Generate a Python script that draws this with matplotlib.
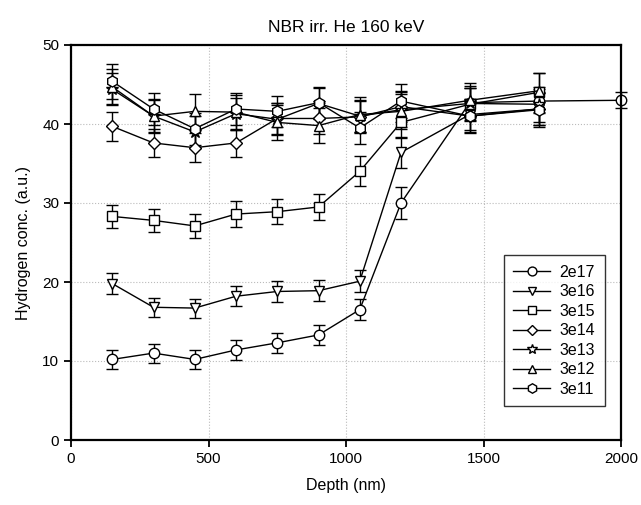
import numpy as np
import matplotlib
matplotlib.use('Agg')
import matplotlib.pyplot as plt

plt.rcParams['font.family'] = ['Liberation Sans', 'DejaVu Sans']

depth = [150, 300, 450, 600, 750, 900, 1050, 1200, 1450, 1700]
depth_2e17 = depth + [2000]

h_2e17 = [10.2, 11.0, 10.2, 11.4, 12.3, 13.3, 16.5, 30.0, 42.7, 42.9, 43.0]
h_3e16 = [19.8, 16.8, 16.7, 18.2, 18.8, 18.9, 20.1, 36.4, 41.2, 41.9]
h_3e15 = [28.3, 27.8, 27.1, 28.6, 28.9, 29.5, 34.0, 40.2, 42.5, 44.0]
h_3e14 = [39.7, 37.6, 37.0, 37.6, 40.7, 40.7, 40.9, 42.2, 41.0, 41.9]
h_3e13 = [44.4, 41.0, 39.0, 41.3, 40.6, 42.6, 41.0, 41.8, 42.6, 42.5]
h_3e12 = [44.7, 41.0, 41.6, 41.5, 40.2, 39.8, 41.2, 41.6, 43.0, 44.2]
h_3e11 = [45.4, 41.9, 39.4, 41.9, 41.6, 42.7, 39.5, 42.9, 41.0, 41.8]

e_2e17 = [1.2, 1.2, 1.2, 1.3, 1.3, 1.3, 1.3, 2.0, 1.8, 1.5, 1.0]
e_3e16 = [1.3, 1.2, 1.2, 1.3, 1.3, 1.3, 1.4, 2.0, 2.0, 2.0]
e_3e15 = [1.5, 1.5, 1.5, 1.6, 1.6, 1.7, 1.9, 2.0, 2.0, 2.5]
e_3e14 = [1.8, 1.8, 1.8, 1.8, 2.0, 2.0, 2.0, 2.0, 2.0, 2.0]
e_3e13 = [2.0, 2.0, 2.0, 2.0, 2.0, 2.0, 2.0, 2.2, 2.2, 2.2]
e_3e12 = [2.2, 2.2, 2.2, 2.2, 2.2, 2.2, 2.2, 2.2, 2.2, 2.3]
e_3e11 = [2.2, 2.0, 2.0, 2.0, 2.0, 2.0, 2.0, 2.2, 2.2, 2.2]

series = [
    ('2e17', depth_2e17, h_2e17, e_2e17, 'o'),
    ('3e16', depth, h_3e16, e_3e16, 'v'),
    ('3e15', depth, h_3e15, e_3e15, 's'),
    ('3e14', depth, h_3e14, e_3e14, 'D'),
    ('3e13', depth, h_3e13, e_3e13, '*'),
    ('3e12', depth, h_3e12, e_3e12, '^'),
    ('3e11', depth, h_3e11, e_3e11, 'h'),
]
marker_sizes = {'o': 7.5, 'v': 7.5, 's': 7, 'D': 6.5, '*': 9, '^': 7.5, 'h': 8}

fig = plt.figure(figsize=(6.41, 5.05), dpi=100)
ax = fig.add_axes([71 / 641, 65 / 505, 550 / 641, 395 / 505])

for label, x, y, err, m in series:
    line, caps, bars = ax.errorbar(x, y, yerr=err, color='black', lw=1.0, elinewidth=1.0,
                                   capsize=4, capthick=1.0, marker=m, ms=marker_sizes[m],
                                   mfc='white', mec='black', mew=1.0, label=label)
    line.set_clip_on(False)
    for c in caps:
        c.set_clip_on(False)
    for b in bars:
        b.set_clip_on(False)

ax.set_xlim(0, 2000)
ax.set_ylim(0, 50)
ax.set_xticks([0, 500, 1000, 1500, 2000])
ax.set_yticks([0, 10, 20, 30, 40, 50])
ax.grid(True, color='#bbbbbb', linestyle=':', lw=0.8)
ax.set_axisbelow(True)
for s in ax.spines.values():
    s.set_linewidth(1.6)
ax.tick_params(direction='out', length=5, width=1.3, labelsize=11)

ax.set_title('NBR irr. He 160 keV', fontsize=12.5, pad=9)
ax.set_xlabel('Depth (nm)', fontsize=11.5, labelpad=9)
ax.set_ylabel('Hydrogen conc. (a.u.)', fontsize=11.5, labelpad=8)

handles, labels = ax.get_legend_handles_labels()
handles = [h[0] for h in handles]
leg = ax.legend(handles, labels, loc='lower right', bbox_to_anchor=(0.985, 0.065),
                fontsize=11.5, frameon=True, fancybox=False, edgecolor='black',
                handlelength=2.3, labelspacing=0.28, borderpad=0.6, handletextpad=0.6,
                markerscale=0.85)
leg.get_frame().set_linewidth(1.0)

fig.savefig('out.png', dpi=100)
